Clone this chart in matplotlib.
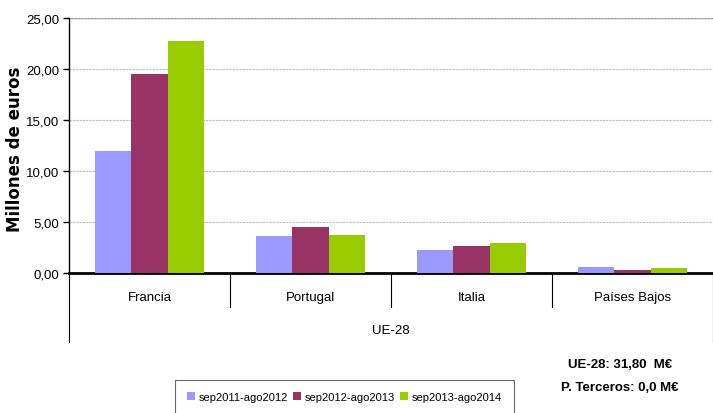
import matplotlib
matplotlib.use("Agg")
import matplotlib.pyplot as plt
import numpy as np
from matplotlib.ticker import FuncFormatter

# data
paises = ["Francia", "Portugal", "Italia", "Países Bajos"]
periodos = ["sep2011-ago2012", "sep2012-ago2013", "sep2013-ago2014"]
valores = [
    [12.0, 3.6, 2.3, 0.6],
    [19.5, 4.5, 2.6, 0.3],
    [22.75, 3.7, 2.9, 0.45],
]
colores = ["#9999FF", "#993366", "#99CC00"]
grupo = "UE-28"
notas = ["UE-28: 31,80  M€", "P. Terceros: 0,0 M€"]

plt.rcParams["font.family"] = ["Liberation Sans", "DejaVu Sans"]

fig = plt.figure(figsize=(7.13, 4.14), dpi=100)
ax = fig.add_axes([69 / 713, 140 / 414, 644 / 713, 255 / 414])

x = np.arange(len(paises))
w = 0.224
for i, (serie, col) in enumerate(zip(valores, colores)):
    ax.bar(x + (i - 1) * w, serie, width=w, color=col, label=periodos[i],
           zorder=3, linewidth=0)

ax.set_xlim(-0.5, len(paises) - 0.5)
ax.set_ylim(0, 25)
ax.set_yticks(np.arange(0, 26, 5))
ax.yaxis.set_major_formatter(FuncFormatter(lambda v, p: f"{v:.2f}".replace(".", ",")))
ax.tick_params(axis="y", labelsize=9.5, length=4, width=1, pad=3)
ax.tick_params(axis="x", length=0, labelbottom=False)
ax.grid(axis="y", color="#BBBBBB", linestyle=(0, (2, 1)), linewidth=0.8, zorder=0)

for s in ["top", "right"]:
    ax.spines[s].set_visible(False)
ax.spines["left"].set_linewidth(1.0)
ax.spines["bottom"].set_linewidth(2.0)
ax.axhline(25, color="#888888", linewidth=1.0, zorder=1)

ax.set_ylabel("Millones de euros", family="DejaVu Sans", fontweight="bold",
              fontsize=12)
ax.yaxis.set_label_coords(-0.07, 0.49)

# category axis: country labels, separators and group label
trans = ax.get_xaxis_transform()
for i, p in enumerate(paises):
    ax.text(i, -0.095, p, transform=trans, ha="center", va="center", fontsize=9.5)
for b in range(len(paises) + 1):
    inner = 0 < b < len(paises)
    ax.plot([b - 0.5, b - 0.5], [0, -0.135 if inner else -0.27], transform=trans,
            color="black", linewidth=0.8, clip_on=False)
ax.text((len(paises) - 1) / 2, -0.225, grupo, transform=trans, ha="center",
        va="center", fontsize=9.5)

fig.text(620 / 713, 1 - 365 / 414, notas[0], ha="center", va="center",
         fontsize=9.5, fontweight="bold")
fig.text(620 / 713, 1 - 388 / 414, notas[1], ha="center", va="center",
         fontsize=9.5, fontweight="bold")

leg = fig.legend(loc="upper left", bbox_to_anchor=(175 / 713, 1 - 381 / 414),
                 ncol=3, fontsize=8, frameon=True, fancybox=False,
                 handlelength=0.7, handleheight=0.7, handletextpad=0.3,
                 columnspacing=0.5, borderpad=1.1, borderaxespad=0)
leg.get_frame().set_edgecolor("#444444")
leg.get_frame().set_linewidth(0.8)

fig.savefig("out.png", dpi=100)
